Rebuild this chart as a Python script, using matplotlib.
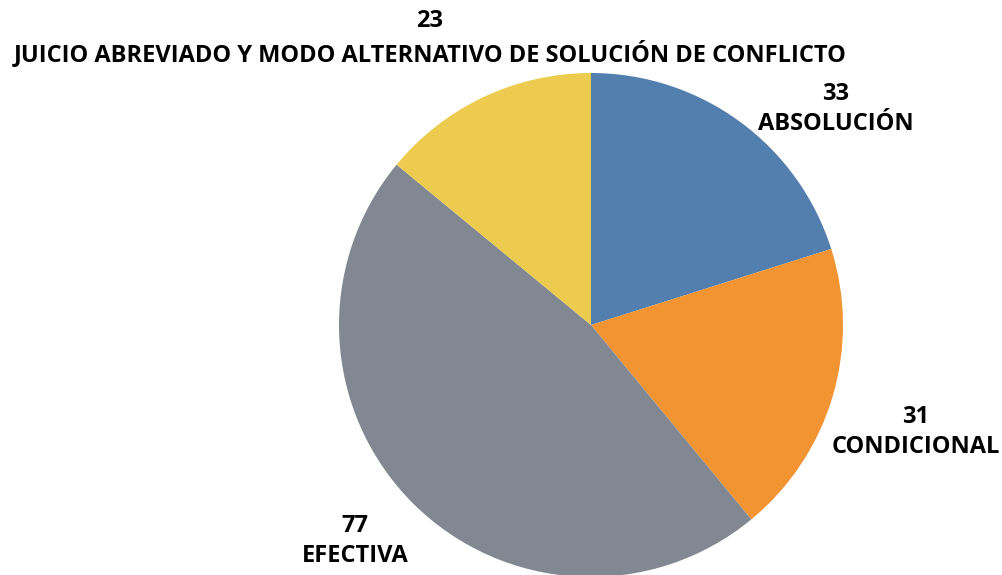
import matplotlib.pyplot as plt

categories = ["ABSOLUCIÓN", "CONDICIONAL", "EFECTIVA",
              "JUICIO ABREVIADO Y MODO ALTERNATIVO DE SOLUCIÓN DE CONFLICTO"]
values = [33, 31, 77, 23]
colors = ["#527FAE", "#F39433", "#828892", "#ECCB4E"]

# label centres in pixels (x, y from top)
label_pos = [(836, 109), (916, 432), (355, 541), (430, 38)]

W, H = 1003, 575
fig = plt.figure(figsize=(W / 100, H / 100), dpi=100)
ax = fig.add_axes([0, 0, 1, 1])

ax.pie(values, colors=colors, startangle=90, counterclock=False,
       center=(591, H - 325), radius=252, frame=True,
       wedgeprops=dict(linewidth=0))
ax.set_xlim(0, W)
ax.set_ylim(0, H)
ax.set_aspect("equal")
ax.axis("off")

for cat, val, (x, y) in zip(categories, values, label_pos):
    ax.text(x, H - y, f"{val}\n{cat}", ha="center", va="center",
            fontsize=17, fontweight="bold", family="Open Sans",
            linespacing=1.3)

fig.savefig("out.png", dpi=100)
